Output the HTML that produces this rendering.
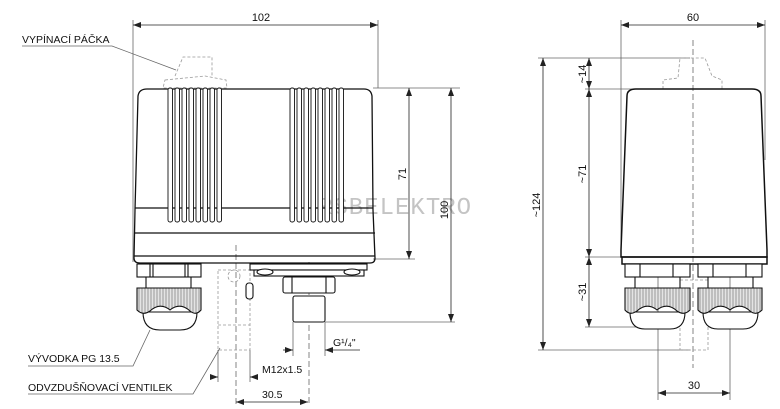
<!DOCTYPE html>
<html><head><meta charset="utf-8"><style>
html,body{margin:0;padding:0;background:#fff}
svg{display:block}
text{font-family:"Liberation Sans",sans-serif;font-size:11px;fill:#111}
</style></head><body>
<svg width="780" height="409" viewBox="0 0 780 409" xmlns="http://www.w3.org/2000/svg">
<defs>
<marker id="a" markerWidth="8" markerHeight="6" refX="8" refY="3" orient="auto-start-reverse" markerUnits="userSpaceOnUse"><path d="M0,0 L8,3 L0,6z" fill="#222"/></marker>
<pattern id="k" width="3" height="10" patternUnits="userSpaceOnUse"><rect width="3" height="10" fill="#e4e4e4"/><line x1="1" y1="0" x2="1" y2="10" stroke="#777" stroke-width="0.7"/></pattern>
</defs>
<!-- watermark -->
<text x="318" y="214" style="font-size:24px;fill:#c4c4c4;letter-spacing:1px;font-family:'Liberation Mono',monospace">RSBELEKTRO</text>

<g stroke="#666" stroke-width="0.8" fill="none">
<line x1="133" y1="20" x2="133" y2="262"/>
<line x1="378" y1="20" x2="378" y2="88"/>
<line x1="373" y1="88" x2="460" y2="88"/>
<line x1="373" y1="259" x2="415" y2="259"/>
<line x1="325" y1="322" x2="455" y2="322"/>
<line x1="236" y1="245" x2="236" y2="405" stroke-dasharray="6,3"/>
<line x1="309" y1="262" x2="309" y2="405" stroke-dasharray="6,3"/>
<polyline points="22,46 112,46 176,70"/>
<polyline points="28,366 133,366 150,330"/>
<polyline points="28,394 193,394 220,348"/>
<line x1="293" y1="322" x2="293" y2="356"/>
<line x1="325" y1="322" x2="325" y2="356"/>
<line x1="218" y1="350" x2="218" y2="382"/>
<line x1="250" y1="350" x2="250" y2="382"/>
</g>
<g stroke="#222" stroke-width="0.8" fill="none">
<line x1="133" y1="25" x2="378" y2="25" marker-start="url(#a)" marker-end="url(#a)"/>
<line x1="409" y1="88" x2="409" y2="259" marker-start="url(#a)" marker-end="url(#a)"/>
<line x1="451" y1="88" x2="451" y2="322" marker-start="url(#a)" marker-end="url(#a)"/>
<line x1="283" y1="350" x2="293" y2="350" marker-end="url(#a)"/>
<line x1="360" y1="350" x2="325" y2="350" marker-end="url(#a)"/>
<line x1="210" y1="377" x2="218" y2="377" marker-end="url(#a)"/>
<line x1="258" y1="377" x2="250" y2="377" marker-end="url(#a)"/>
<line x1="236" y1="402" x2="308" y2="402" marker-start="url(#a)" marker-end="url(#a)"/>
</g>
<text x="261" y="21" text-anchor="middle">102</text>
<text x="22" y="43" style="font-size:10.5px">VYPÍNACÍ PÁČKA</text>
<text x="28" y="362" style="font-size:10.5px">VÝVODKA PG 13.5</text>
<text x="28" y="391" style="font-size:10.5px">ODVZDUŠŇOVACÍ VENTILEK</text>
<text x="262" y="373" style="font-size:10.5px">M12x1.5</text>
<text x="262" y="398" style="font-size:10.5px">30.5</text>
<text x="333" y="346" style="font-size:10.5px">G¹/₄"</text>
<text transform="translate(406,174) rotate(-90)" text-anchor="middle">71</text>
<text transform="translate(448,210) rotate(-90)" text-anchor="middle">100</text>

<g stroke="#999" stroke-width="0.8" fill="none" stroke-dasharray="3,2">
<path d="M165,80 L205,76 L226,80 L227,88 L163,88 Z"/>
<path d="M175,76 L183,57 L212,57 L212,76"/>
<path d="M218,270 L250,270 L250,350 L218,350 Z"/>
<line x1="218" y1="325" x2="250" y2="325"/>
<circle cx="234" cy="276" r="6"/>
</g>
<g stroke="#111" stroke-width="1.3" fill="none">
<path d="M138,96 Q139,89 147,89 L364,89 Q371,89 372,96 L373,210 L375,258 Q375,263 370,263 L140,263 Q134,263 134,258 L135,210 Z"/>
<line x1="135" y1="208" x2="373" y2="208"/>
<line x1="134" y1="233" x2="375" y2="233"/>
<line x1="134" y1="256" x2="375" y2="256"/>
</g>
<g stroke="#111" stroke-width="0.9" fill="#fff">
<rect x="168" y="88" width="4.5" height="134" rx="2"/><rect x="175" y="88" width="4.5" height="134" rx="2"/><rect x="182" y="88" width="4.5" height="134" rx="2"/><rect x="189" y="88" width="4.5" height="134" rx="2"/><rect x="196" y="88" width="4.5" height="134" rx="2"/><rect x="203" y="88" width="4.5" height="134" rx="2"/><rect x="210" y="88" width="4.5" height="134" rx="2"/><rect x="217" y="88" width="4.5" height="134" rx="2"/>
<rect x="290" y="88" width="4.5" height="134" rx="2"/><rect x="297" y="88" width="4.5" height="134" rx="2"/><rect x="304" y="88" width="4.5" height="134" rx="2"/><rect x="311" y="88" width="4.5" height="134" rx="2"/><rect x="318" y="88" width="4.5" height="134" rx="2"/><rect x="325" y="88" width="4.5" height="134" rx="2"/><rect x="332" y="88" width="4.5" height="134" rx="2"/><rect x="339" y="88" width="4.5" height="134" rx="2"/>
</g>
<g stroke="#111" stroke-width="1.1" fill="#fff">
<rect x="137" y="264" width="64" height="13"/>
<line x1="150" y1="264" x2="150" y2="277"/><line x1="153" y1="264" x2="153" y2="277"/><line x1="185" y1="264" x2="185" y2="277"/><line x1="188" y1="264" x2="188" y2="277"/>
<line x1="146" y1="277" x2="146" y2="288"/><line x1="191" y1="277" x2="191" y2="288"/>
<path d="M143,312 Q143,330 160,330 L180,330 Q197,330 197,312 Z"/>
<path d="M137,288 L201,288 L201,310 Q196,316 190,311 Q180,302 170,310 Q160,302 150,311 Q143,316 137,310 Z" fill="url(#k)"/>
<rect x="250" y="264" width="117" height="6"/>
<rect x="254" y="270" width="110" height="6"/>
<ellipse cx="265" cy="272" rx="8" ry="3"/><ellipse cx="352" cy="272" rx="8" ry="3"/>
<rect x="283" y="277" width="52" height="16" rx="2"/>
<line x1="292" y1="277" x2="292" y2="293"/><line x1="326" y1="277" x2="326" y2="293"/>
<rect x="293" y="296" width="32" height="26" rx="2"/>
<rect x="246" y="283" width="7" height="16" rx="3"/>
</g>

<!-- RIGHT VIEW -->
<g stroke="#666" stroke-width="0.8" fill="none">
<line x1="621" y1="20" x2="621" y2="257"/>
<line x1="765" y1="20" x2="765" y2="160"/>
<line x1="538" y1="58" x2="690" y2="58"/>
<line x1="585" y1="89" x2="640" y2="89"/>
<line x1="585" y1="257" x2="625" y2="257"/>
<line x1="585" y1="327" x2="640" y2="327"/>
<line x1="538" y1="350" x2="690" y2="350"/>
<line x1="658" y1="270" x2="658" y2="400"/>
<line x1="730" y1="270" x2="730" y2="400"/>
<line x1="693" y1="40" x2="693" y2="368" stroke-dasharray="6,3"/>
</g>
<g stroke="#222" stroke-width="0.8" fill="none">
<line x1="621" y1="25" x2="765" y2="25" marker-start="url(#a)" marker-end="url(#a)"/>
<line x1="543" y1="58" x2="543" y2="350" marker-start="url(#a)" marker-end="url(#a)"/>
<line x1="589" y1="58" x2="589" y2="89" marker-start="url(#a)" marker-end="url(#a)"/>
<line x1="589" y1="89" x2="589" y2="257" marker-start="url(#a)" marker-end="url(#a)"/>
<line x1="589" y1="257" x2="589" y2="327" marker-start="url(#a)" marker-end="url(#a)"/>
<line x1="658" y1="393" x2="730" y2="393" marker-start="url(#a)" marker-end="url(#a)"/>
</g>
<text x="693" y="21" text-anchor="middle">60</text>
<text x="694" y="389" text-anchor="middle">30</text>
<text transform="translate(540,205) rotate(-90)" text-anchor="middle">~124</text>
<text transform="translate(586,74) rotate(-90)" text-anchor="middle">~14</text>
<text transform="translate(586,174) rotate(-90)" text-anchor="middle">~71</text>
<text transform="translate(586,292) rotate(-90)" text-anchor="middle">~31</text>
<g stroke="#999" stroke-width="0.8" fill="none" stroke-dasharray="3,2">
<path d="M663,89 L663,80 L678,78 L680,58 L705,58 L712,76 L722,80 L722,89"/>
<rect x="680" y="280" width="28" height="70"/>
</g>
<g stroke="#111" stroke-width="1.5" fill="none">
<path d="M627,96 Q627,89 636,89 L752,89 Q761,89 761,96 L767,250 L767,257 L621,257 L621,250 Z"/>
<rect x="622" y="257" width="145" height="7"/>
</g>
<g stroke="#111" stroke-width="1.1" fill="#fff">
<rect x="625" y="264" width="65" height="13"/><rect x="698" y="264" width="64" height="13"/>
<line x1="640" y1="264" x2="640" y2="277"/><line x1="673" y1="264" x2="673" y2="277"/>
<line x1="713" y1="264" x2="713" y2="277"/><line x1="746" y1="264" x2="746" y2="277"/>
<line x1="635" y1="277" x2="635" y2="288"/><line x1="680" y1="277" x2="680" y2="288"/>
<line x1="708" y1="277" x2="708" y2="288"/><line x1="753" y1="277" x2="753" y2="288"/>
<path d="M630,312 Q630,329 645,329 L670,329 Q685,329 685,312 Z"/>
<path d="M703,312 Q703,329 718,329 L743,329 Q758,329 758,312 Z"/>
<path d="M625,288 L690,288 L690,310 Q684,316 677,311 Q667,302 657,310 Q647,302 637,311 Q630,316 625,310 Z" fill="url(#k)"/>
<path d="M698,288 L762,288 L762,310 Q756,316 750,311 Q740,302 730,310 Q720,302 710,311 Q703,316 698,310 Z" fill="url(#k)"/>
</g>
</svg>
</body></html>
